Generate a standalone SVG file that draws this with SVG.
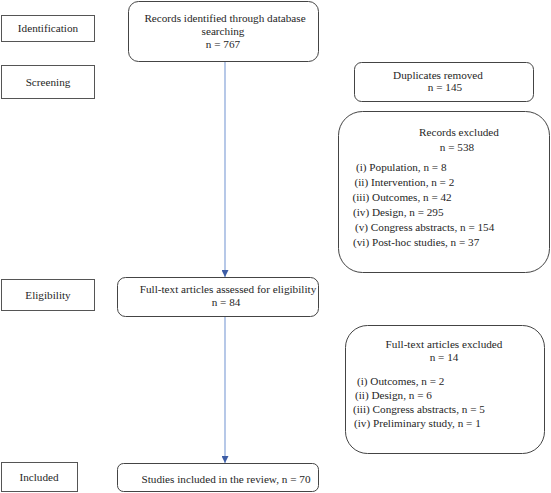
<svg xmlns="http://www.w3.org/2000/svg" width="551" height="493" viewBox="0 0 551 493">
<style>
text{font-family:"Liberation Serif","Times New Roman",serif;font-size:11.2px;fill:#262626}
.c{text-anchor:middle}
.lbl{fill:#fff;stroke:#555;stroke-width:1}
.box{fill:#fff;stroke:#444;stroke-width:1}
.ln{stroke:#86a3d8;stroke-width:1.2;fill:none}
</style>
<defs>
<marker id="ah" viewBox="0 0 10 10" refX="10" refY="5" markerWidth="7" markerHeight="7" markerUnits="userSpaceOnUse" orient="auto">
<path d="M0,0 L10,5 L0,10 z" fill="#3d5da6"/>
</marker>
</defs>
<g id="stage-identification"><rect class="lbl" x="1.5" y="15.5" width="93" height="26"/><text class="c" x="48" y="32">Identification</text></g>
<g id="stage-screening"><rect class="lbl" x="1.5" y="65.5" width="93" height="33"/><text class="c" x="48" y="86">Screening</text></g>
<g id="stage-eligibility"><rect class="lbl" x="1.5" y="279.5" width="93" height="31"/><text class="c" x="48" y="299">Eligibility</text></g>
<g id="stage-included"><rect class="lbl" x="1.5" y="462.5" width="76" height="29"/><text class="c" x="39" y="481">Included</text></g>
<g id="records-identified"><rect class="box" x="128.5" y="1.5" width="190" height="60" rx="10"/><text class="c" x="225" y="22">Records identified through database</text><text class="c" x="223" y="35">searching</text><text class="c" x="223" y="48">n = 767</text></g>
<g id="duplicates"><rect class="box" x="354.5" y="62.5" width="179" height="39" rx="7"/><text class="c" x="438" y="79">Duplicates removed</text><text class="c" x="445" y="91">n = 145</text></g>
<g id="records-excluded"><rect class="box" x="338.5" y="111.5" width="211" height="161" rx="24"/><text class="c" x="459" y="136">Records excluded</text><text class="c" x="457" y="151">n = 538</text>
<text x="356" y="171">(i) Population, n = 8</text>
<text x="354.5" y="186">(ii) Intervention, n = 2</text>
<text x="352.5" y="201">(iii) Outcomes, n = 42</text>
<text x="353" y="216">(iv) Design, n = 295</text>
<text x="355" y="231">(v) Congress abstracts, n = 154</text>
<text x="353" y="246">(vi) Post-hoc studies, n = 37</text></g>
<g id="fulltext-assessed"><rect class="box" x="117.5" y="277.5" width="201" height="39" rx="8"/><text class="c" x="228" y="293">Full-text articles assessed for eligibility</text><text class="c" x="226" y="306">n = 84</text></g>
<g id="fulltext-excluded"><rect class="box" x="345.5" y="325.5" width="199" height="128" rx="22"/><text class="c" x="444" y="348">Full-text articles excluded</text><text class="c" x="444" y="361">n = 14</text>
<text x="357" y="385">(i) Outcomes, n = 2</text>
<text x="355" y="399">(ii) Design, n = 6</text>
<text x="353" y="413">(iii) Congress abstracts, n = 5</text>
<text x="354" y="427">(iv) Preliminary study, n = 1</text></g>
<g id="studies-included"><rect class="box" x="117.5" y="463.5" width="201" height="28" rx="6"/><text class="c" x="226" y="483">Studies included in the review, n = 70</text></g>
<g id="connectors">
<line class="ln" x1="225" y1="62" x2="225" y2="277" marker-end="url(#ah)"/>
<line class="ln" x1="225" y1="317" x2="225" y2="463" marker-end="url(#ah)"/>
</g>
</svg>
